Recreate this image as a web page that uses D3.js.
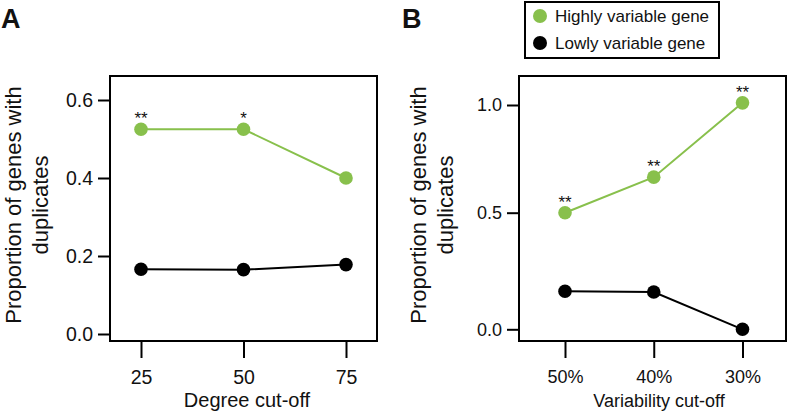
<!DOCTYPE html>
<html>
<head>
<meta charset="utf-8">
<script src="https://cdn.jsdelivr.net/npm/d3@7"></script>
<style>
  html, body { margin: 0; padding: 0; background: #fff; }
  svg { display: block; }
  text { font-family: "Liberation Sans", Arial, Helvetica, sans-serif; fill: #111; }
</style>
</head>
<body>
<script>
// ---- data ----
const degreeCats = ["25", "50", "75"];
const degreeHigh = [0.525, 0.525, 0.40];
const degreeLow = [0.166, 0.165, 0.178];
const degreeStars = ["**", "*", ""];
const degreeTicks = [0, 0.2, 0.4, 0.6];

const varCats = ["50%", "40%", "30%"];
const varHigh = [0.50, 0.665, 1.01];
const varLow = [0.163, 0.16, 0.0];
const varStars = ["**", "**", "**"];
const varTicks = [0, 0.5, 1.0];

const seriesNames = ["Highly variable gene", "Lowly variable gene"];
const seriesColors = ["#88c04c", "#000000"];

// ---- drawing ----
const W = 787, H = 413;
const svg = d3.select("body").append("svg").attr("width", W).attr("height", H);

function panel(cfg) {
  const g = svg.append("g");
  const x = d3.scalePoint().domain(cfg.cats).range(cfg.xRange);
  const y = d3.scaleLinear().domain(cfg.yDomain).range(cfg.yRange);

  // box
  g.append("rect")
    .attr("x", cfg.box[0]).attr("y", cfg.box[1])
    .attr("width", cfg.box[2] - cfg.box[0]).attr("height", cfg.box[3] - cfg.box[1])
    .attr("fill", "none").attr("stroke", "#000").attr("stroke-width", 2);

  // y axis
  const ya = g.append("g").attr("transform", `translate(${cfg.box[0]},0)`)
    .call(d3.axisLeft(y).tickValues(cfg.yTicks).tickFormat(d3.format(".1f")).tickSize(12).tickPadding(5));
  ya.select(".domain").remove();
  ya.selectAll(".tick line").attr("stroke", "#000").attr("stroke-width", 2);
  ya.selectAll(".tick text").attr("font-size", cfg.tickFont).attr("fill", "#111")
    .style("font-family", "Liberation Sans, Arial, sans-serif");

  // x axis
  const xa = g.append("g").attr("transform", `translate(0,${cfg.box[3]})`)
    .call(d3.axisBottom(x).tickSize(17).tickPadding(12));
  xa.select(".domain").remove();
  xa.selectAll(".tick line").attr("stroke", "#000").attr("stroke-width", 2);
  xa.selectAll(".tick text").attr("font-size", cfg.tickFont).attr("fill", "#111")
    .style("font-family", "Liberation Sans, Arial, sans-serif");

  // x title
  g.append("text").attr("x", cfg.xTitleX).attr("y", 407)
    .attr("text-anchor", "middle").attr("font-size", cfg.titleFont).text(cfg.xTitle);

  // y title (two lines)
  cfg.yTitleLines.forEach((t, i) => {
    g.append("text")
      .attr("transform", `translate(${cfg.yTitleX[i]},205) rotate(-90)`)
      .attr("text-anchor", "middle").attr("font-size", 22).text(t);
  });

  // lines & points
  [cfg.low, cfg.high].forEach((vals, k) => {
    const color = k === 0 ? seriesColors[1] : seriesColors[0];
    const pts = vals.map((v, i) => [x(cfg.cats[i]), y(v)]);
    g.append("path").attr("d", d3.line()(pts))
      .attr("fill", "none").attr("stroke", color).attr("stroke-width", 2);
    g.selectAll(null).data(pts).enter().append("circle")
      .attr("cx", d => d[0]).attr("cy", d => d[1]).attr("r", 6.8).attr("fill", color);
  });

  // significance stars
  g.selectAll(null).data(cfg.stars).enter().append("text")
    .attr("x", (d, i) => x(cfg.cats[i]))
    .attr("y", (d, i) => y(cfg.high[i]) - 5)
    .attr("text-anchor", "middle").attr("font-size", 17).text(d => d);

  // panel letter
  g.append("text").attr("x", cfg.letterX).attr("y", 28)
    .attr("font-size", 27).attr("font-weight", "bold").attr("fill", "#000").text(cfg.letter);
}

panel({
  letter: "A", letterX: 1,
  cats: degreeCats, high: degreeHigh, low: degreeLow, stars: degreeStars,
  xRange: [141, 346], yDomain: [0, 0.6], yRange: [334, 100], yTicks: degreeTicks,
  box: [110, 76, 377, 341],
  tickFont: 19.5, titleFont: 20,
  xTitle: "Degree cut-off", xTitleX: 247,
  yTitleLines: ["Proportion of genes with", "duplicates"], yTitleX: [21, 48]
});

panel({
  letter: "B", letterX: 402,
  cats: varCats, high: varHigh, low: varLow, stars: varStars,
  xRange: [565, 742.5], yDomain: [0, 0.5, 1.0], yRange: [329.3, 212.7, 105], yTicks: varTicks,
  box: [519, 76, 786, 341],
  tickFont: 18, titleFont: 18,
  xTitle: "Variability cut-off", xTitleX: 659,
  yTitleLines: ["Proportion of genes with", "duplicates"], yTitleX: [426, 453]
});

// legend
const leg = svg.append("g");
leg.append("rect").attr("x", 525).attr("y", 2).attr("width", 194).attr("height", 56)
  .attr("fill", "#fff").attr("stroke", "#000").attr("stroke-width", 2);
seriesNames.forEach((name, i) => {
  const cy = 16 + i * 27;
  leg.append("circle").attr("cx", 540).attr("cy", cy).attr("r", 7).attr("fill", seriesColors[i]);
  leg.append("text").attr("x", 555).attr("y", cy + 6).attr("font-size", 17).text(name);
});
</script>
</body>
</html>
